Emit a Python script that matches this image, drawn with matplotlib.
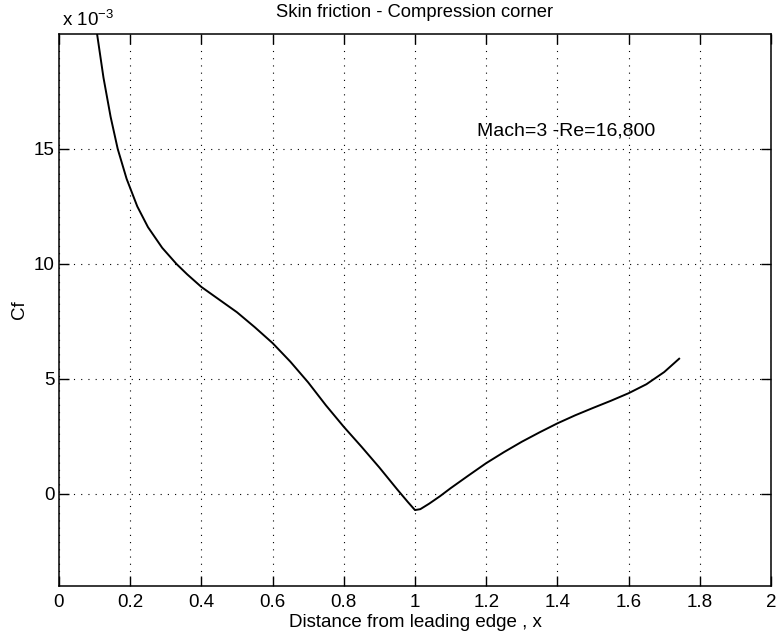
import numpy as np
import matplotlib.pyplot as plt

plt.rcParams['font.family'] = ['Liberation Sans', 'DejaVu Sans']
plt.rcParams['mathtext.fontset'] = 'custom'
plt.rcParams['mathtext.rm'] = 'Liberation Sans'

# distance from leading edge and skin friction (x 1e-3)
x = [0.107, 0.125, 0.145, 0.165, 0.19, 0.22, 0.25, 0.29, 0.33, 0.36,
     0.40, 0.45, 0.50, 0.55, 0.60, 0.65, 0.70, 0.75, 0.80, 0.85,
     0.90, 0.95, 0.98, 1.00, 1.015, 1.04, 1.07, 1.10, 1.15, 1.20,
     1.25, 1.30, 1.35, 1.40, 1.45, 1.50, 1.55, 1.60, 1.65, 1.70,
     1.742]
cf = [20.0, 18.1, 16.4, 15.0, 13.7, 12.5, 11.6, 10.7, 10.0, 9.55,
      9.0, 8.45, 7.9, 7.25, 6.56, 5.75, 4.85, 3.85, 2.92, 2.05,
      1.15, 0.2, -0.35, -0.7, -0.66, -0.42, -0.1, 0.25, 0.8, 1.34,
      1.82, 2.27, 2.68, 3.07, 3.42, 3.74, 4.05, 4.38, 4.77, 5.3,
      5.88]

xticks = [0, 0.2, 0.4, 0.6, 0.8, 1, 1.2, 1.4, 1.6, 1.8, 2]
xticklabels = ['0', '0.2', '0.4', '0.6', '0.8', '1', '1.2', '1.4', '1.6', '1.8', '2']
yticks = [0, 5, 10, 15]

fs = 13.5

fig = plt.figure(figsize=(7.78, 6.4), dpi=100)
ax = fig.add_axes([0.0758, 0.0844, 0.9152, 0.8626])
ax.plot(x, cf, color='k', linewidth=1.4)

ax.set_xlim(0, 2)
ax.set_ylim(-4, 20)
ax.set_xticks(xticks)
ax.set_xticklabels(xticklabels)
ax.set_yticks(yticks)
ax.tick_params(direction='in', top=True, right=True, length=7, width=1,
               labelsize=fs)
ax.tick_params(axis='x', pad=6)
ax.tick_params(axis='y', pad=3)
ax.grid(True, color='k', linestyle=(0, (1, 5.5)), linewidth=0.8)
for s in ax.spines.values():
    s.set_linewidth(1.1)

ax.set_title('Skin friction - Compression corner', fontsize=13.2, pad=12)
ax.set_xlabel('Distance from leading edge , x', fontsize=fs, labelpad=2)
ax.set_ylabel('Cf', fontsize=fs, labelpad=4)
ax.text(0.004, 1.008, 'x 10$^{-3}$', transform=ax.transAxes, ha='left',
        va='bottom', fontsize=fs)
ax.text(1.173, 15.8, 'Mach=3 -Re=16,800', ha='left', va='center', fontsize=14)

fig.savefig('out.png', dpi=100)
